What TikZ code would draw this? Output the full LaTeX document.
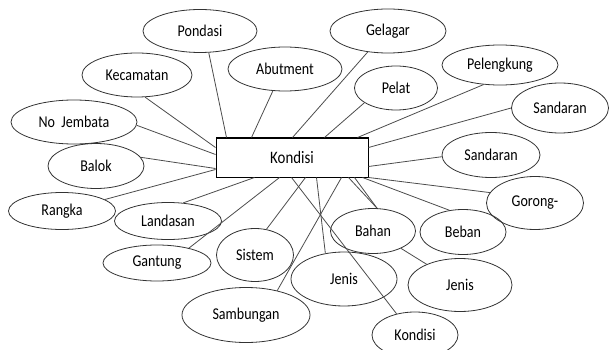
\documentclass[tikz,border=0pt]{standalone}
\usepackage{fontspec}
\setmainfont{Carlito}[FakeStretch=0.85]
\usetikzlibrary{shapes.geometric}
\begin{document}
\begin{tikzpicture}[x=1pt,y=-1pt]
	\clip (0,0) rectangle (610,350);
	\node[draw, line width=1pt, minimum width=152pt, minimum height=39pt, font=\fontsize{17.5}{20}\selectfont] (kondisi) at (292,157.5) {Kondisi};

	\begin{scope}[every node/.style={ellipse, draw=black!80, line width=0.8pt, inner sep=0pt, font=\fontsize{16.5}{18}\selectfont}]
		\node[minimum width=114pt, minimum height=43pt] (pondasi) at (200,31) {Pondasi};
		\node[minimum width=110pt, minimum height=44pt] (kecamatan) at (137,75) {Kecamatan};
		\node[minimum width=126pt, minimum height=44pt] (nojembata) at (74,122) {No~ Jembata};
		\node[minimum width=96pt, minimum height=45pt] (balok) at (96,166) {Balok};
		\node[minimum width=107pt, minimum height=37pt] (rangka) at (62,211) {\raisebox{-5pt}{Rangka}};
		\node[minimum width=107pt, minimum height=37pt] (landasan) at (168,221) {\raisebox{-4pt}{Landasan}};
		\node[minimum width=108pt, minimum height=36pt] (gantung) at (157,263) {\raisebox{-7pt}{Gantung}};
		\node[minimum width=77pt, minimum height=53pt] (sistem) at (255,255) {Sistem};
		\node[minimum width=128pt, minimum height=55pt] (sambungan) at (246,315) {Sambungan};
		\node[minimum width=106pt, minimum height=54pt] (jenisa) at (344,279) {Jenis};
		\node[minimum width=86pt, minimum height=46pt] (kondisib) at (415,335) {Kondisi};
		\node[minimum width=85pt, minimum height=45pt] (bahan) at (373,231) {Bahan};
		\node[minimum width=104pt, minimum height=53pt] (jenisb) at (460,285) {Jenis};
		\node[minimum width=86pt, minimum height=45pt] (beban) at (463,232) {Beban};
		\node[minimum width=97pt, minimum height=53pt] (gorong) at (535,203) {Gorong-};
		\node[minimum width=98pt, minimum height=45pt] (sandaranb) at (491,155) {Sandaran};
		\node[minimum width=97pt, minimum height=50pt] (sandarana) at (560,108) {Sandaran};
		\node[minimum width=116pt, minimum height=40pt] (pelengkung) at (500,65) {Pelengkung};
		\node[minimum width=83pt, minimum height=44pt] (pelat) at (396,88) {Pelat};
		\node[minimum width=116pt, minimum height=44pt] (gelagar) at (388,31) {Gelagar};
		\node[minimum width=114pt, minimum height=44pt] (abutment) at (285,69) {Abutment};
	\end{scope}

	\begin{scope}[line width=0.8pt, black!70]
		% top side
		\draw ([xshift=11pt]kondisi.north west) -- (pondasi.292);
		\draw ([xshift=36pt]kondisi.north west) -- (abutment.241);
		\draw ([xshift=77pt]kondisi.north west) -- (gelagar.226);
		\draw ([xshift=109pt]kondisi.north west) -- (pelat.205);
		\draw ([xshift=142pt]kondisi.north west) -- (pelengkung.230);
		% right side
		\draw ([yshift=-10pt]kondisi.north east) -- (sandarana.180);
		\draw ([yshift=-29pt]kondisi.north east) -- (sandaranb.182);
		% left side
		\draw ([yshift=-10pt]kondisi.north west) -- (kecamatan.290);
		\draw ([yshift=-17pt]kondisi.north west) -- (nojembata.357);
		\draw ([yshift=-31pt]kondisi.north west) -- (balok.11);
		\draw ([yshift=-32pt]kondisi.north west) -- (rangka.15);
		% bottom side
		\draw ([xshift=39pt]kondisi.south west) -- (landasan.50);
		\draw ([xshift=64pt]kondisi.south west) -- (gantung.25);
		\draw ([xshift=76pt]kondisi.south west) -- (kondisib.131);
		\draw ([xshift=90pt]kondisi.south west) -- (sistem.66);
		\draw ([xshift=101pt]kondisi.south west) -- (jenisa.126);
		\draw ([xshift=126pt]kondisi.south west) -- (sambungan.38);
		\draw ([xshift=133pt]kondisi.south west) -- (bahan.80);
		\draw ([xshift=139pt]kondisi.south west) -- (bahan.80);
		\draw ([xshift=-6pt]kondisi.south east) -- (beban.122);
		\draw (kondisi.south east) -- (gorong.167);
		\draw (bahan) -- (jenisb);
	\end{scope}
\end{tikzpicture}
\end{document}
